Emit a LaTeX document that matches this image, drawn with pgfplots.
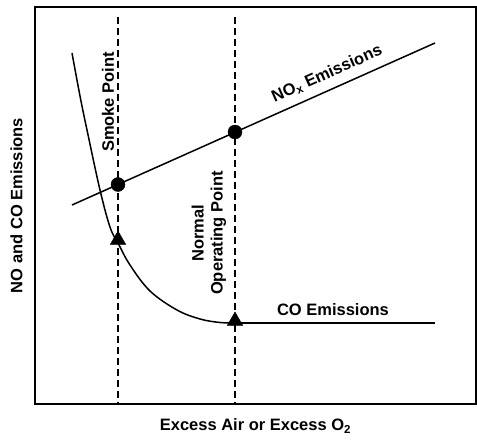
\documentclass[border=0pt]{standalone}
\usepackage{fontspec}
\setmainfont{Liberation Sans}
\usepackage{pgfplots}
\pgfplotsset{compat=1.18}
\begin{document}
\begin{tikzpicture}
\path (-35pt,-36pt) rectangle (442pt,404pt);
\begin{axis}[
  scale only axis, width=441pt, height=397pt,
  xmin=35, xmax=476, ymin=0, ymax=397,
  xtick=\empty, ytick=\empty,
  axis line style={line width=1.6pt},
  clip=false,
  xlabel={\fontsize{16.5}{18}\selectfont\bfseries Excess Air or Excess O\textsubscript{2}},
  ylabel={\fontsize{16.5}{18}\selectfont\bfseries NO and CO Emissions},
  xlabel style={at={(axis description cs:0.5,0)}, anchor=north, yshift=-11pt},
  ylabel style={at={(axis description cs:0,0.5)}, anchor=south, yshift=9pt},
]
% dashed vertical lines
\addplot[black, line width=1.3pt, dash pattern=on 7pt off 4pt] coordinates {(118,387) (118,0)};
\addplot[black, line width=1.3pt, dash pattern=on 7pt off 4pt] coordinates {(235,387) (235,0)};
% NOx line
\addplot[black, line width=1.5pt] coordinates {(72,199) (435,361)};
\addplot[only marks, mark=*, mark size=7pt, black] coordinates {(118,219.5) (235,272)};
% CO curve
\addplot[black, line width=1.5pt, smooth, tension=0.6] coordinates {
 (72,351) (80,308) (87,274) (100,214) (110,177) (118,161) (130,139) (150,113) (177,94) (200,85) (220,81.5) (235,81)};
\addplot[black, line width=1.5pt] coordinates {(235,81) (435,81)};
\addplot[only marks, mark=triangle*, mark size=9pt, black] coordinates {(118,164) (235,83)};
% labels
\node[rotate=90, font=\fontsize{16.5}{18}\selectfont\bfseries] at (axis cs:108,302) {Smoke Point};
\node[rotate=90, align=center, font=\fontsize{16.5}{19}\selectfont\bfseries] at (axis cs:209,171) {Normal\\Operating Point};
\node[font=\fontsize{16.5}{18}\selectfont\bfseries] at (axis cs:333,94) {CO Emissions};
\node[rotate=24, font=\fontsize{16.5}{18}\selectfont\bfseries] at (axis cs:327,330) {NO\textsubscript{x} Emissions};
\end{axis}
\end{tikzpicture}
\end{document}
